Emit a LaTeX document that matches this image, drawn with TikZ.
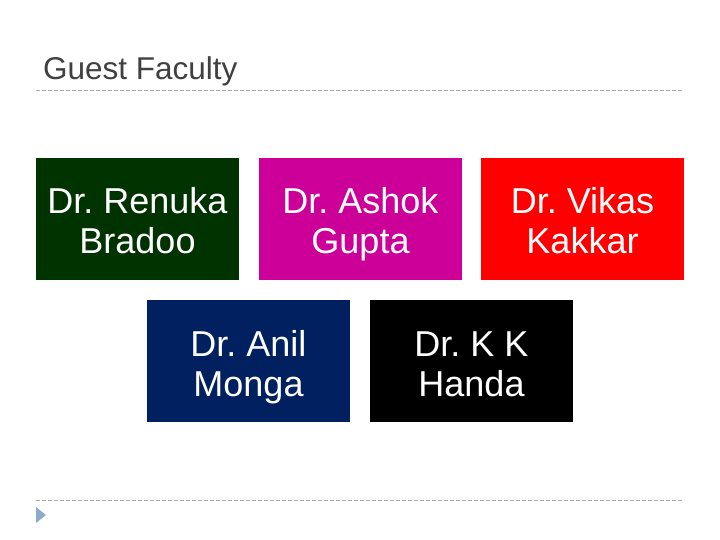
\documentclass[tikz,border=0pt]{standalone}
\usepackage{fontspec}
\setmainfont{Liberation Sans}
\frenchspacing
\definecolor{rgreen}{RGB}{0,51,0}
\definecolor{amag}{RGB}{204,0,153}
\definecolor{vred}{RGB}{255,0,0}
\definecolor{anavy}{RGB}{0,32,96}
\definecolor{dashgray}{RGB}{170,170,170}
\definecolor{titlegray}{RGB}{64,64,64}
\definecolor{tri}{RGB}{143,170,204}
\newcommand{\fstrut}{\rule[-8pt]{0pt}{46pt}}
\newcommand{\lstrut}{\rule[-8pt]{0pt}{34pt}}
\begin{document}
\begin{tikzpicture}[x=1pt,y=-1pt,
  facbox/.style={draw=none,minimum width=203pt,minimum height=122pt,inner sep=0pt,
    text=white,align=center,font=\fontsize{36}{40}\selectfont},
  sep/.style={draw=dashgray,line width=0.8pt,dash pattern=on 4pt off 2pt}]
\useasboundingbox (0,0) rectangle (720,540);
\node[anchor=base west,text=titlegray,font=\fontsize{31.5}{34}\selectfont,inner sep=0pt] (title) at (43,80) {Guest Faculty};
\coordinate (t1) at (36,90);
\coordinate (t2) at (684,90);
\draw[sep] (t1) -- (t2);
\coordinate (b1) at (36,500);
\coordinate (b2) at (684,500);
\draw[sep] (b1) -- (b2);
\node[facbox,fill=rgreen] (renuka) at (137.5,219) {\fstrut Dr. Renuka\\\lstrut Bradoo};
\node[facbox,fill=amag] (ashok) at (360.5,219) {\fstrut Dr. Ashok\\\lstrut Gupta};
\node[facbox,fill=vred] (vikas) at (582.5,219) {\fstrut Dr. Vikas\\\lstrut Kakkar};
\node[facbox,fill=anavy] (anil) at (248.5,361) {\fstrut Dr. Anil\\\lstrut Monga};
\node[facbox,fill=black] (kk) at (471.5,361) {\fstrut Dr. K K\\\lstrut Handa};
\fill[tri] (36,507) -- (46,515) -- (36,523) -- cycle;
\end{tikzpicture}
\end{document}
